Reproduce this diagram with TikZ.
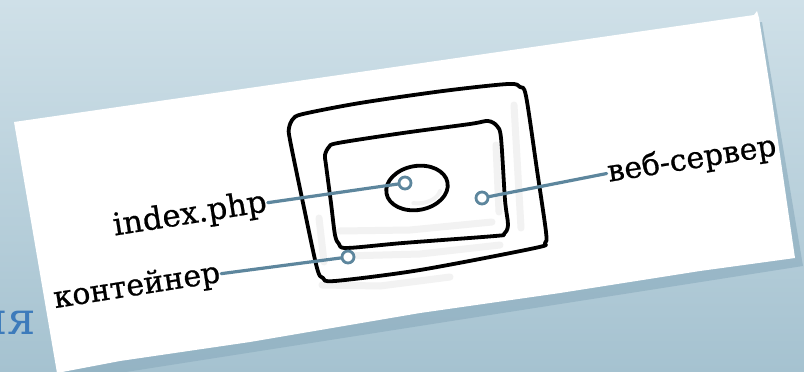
\documentclass[tikz,border=0pt]{standalone}
\usepackage{fontspec}
\setmainfont{DejaVu Serif}
\newfontfamily\tagfont{DejaVu Serif}[FakeBold=0.7]
\usepackage{xcolor}
\usepackage{tikz}
\usetikzlibrary{calc, positioning}
\definecolor{bgtop}{HTML}{CFE0E8}
\definecolor{bgbottom}{HTML}{A5C2D0}
\definecolor{papershadow}{HTML}{8AABBD}
\definecolor{leaderblue}{HTML}{5D869D}
\definecolor{titleblue}{HTML}{3D7BBB}

\begin{document}
\begin{tikzpicture}[
        x = 1pt, y = -1pt,
        caption/.style = {font=\tagfont\fontsize{30}{30}\selectfont, rotate=9, inner sep=1pt},
        knob/.style = {circle, draw=leaderblue, fill=white, line width=2.8pt, minimum size=12pt, inner sep=0pt},
        leader/.style = {draw=leaderblue, line width=3.2pt, line cap=round},
        sketch/.style = {draw=black, line width=3.8pt, line join=round},
        soft/.style = {draw=black!7, line width=7pt, line cap=round, opacity=0.7}
    ]

        \clip (0,0) rectangle (804,372);
        \shade [top color=bgtop, bottom color=bgbottom] (0,0) rectangle (804,372);
        \node (tail) [anchor=base east, text=titleblue, font=\fontsize{45}{45}\selectfont] at (39,334) {ия};

        \fill [papershadow, opacity=0.6] (20,130) -- (762,22) -- (803,266) -- (62,382) -- cycle;
        \fill [white] (14,122) -- (754,15) -- (757,11) -- (759,18) -- (772,100) -- (795,258)
            -- (700,271) -- (560,293) -- (420,313) -- (250,342) -- (120,361) -- (57,373) -- cycle;

        \draw [soft] (340,231) -- (410,230) -- (492,222);
        \draw [soft] (496,145) -- (499,212);
        \draw [soft] (514,105) -- (521,228);
        \draw [soft] (345,256) -- (420,254) -- (500,245);
        \draw [soft] (319,218) -- (324,262);
        \draw [soft] (322,285) -- (380,286) -- (450,277);
        \draw [soft, line width=4pt] ($(417,188)+(23,3)$) arc [start angle=10, end angle=100, x radius=23, y radius=15];

        \draw [sketch] plot [smooth cycle, tension=0.5] coordinates {
            (289,128) (293,119) (303,114) (360,103) (443,91) (508,84) (520,87) (526,96)
            (537,170) (546,232) (545,243) (535,248) (420,270) (335,281) (323,278) (317,268)
            (303,203) (290,140)};
        \draw [sketch] plot [smooth cycle, tension=0.5] coordinates {
            (325,155) (329,147) (338,143) (403,133) (470,124) (488,121) (497,126) (501,138)
            (505,200) (508,225) (504,234) (495,236) (403,243) (347,248) (339,244) (335,235)
            (331,203) (326,165)};
        \draw [sketch] (417,188) ellipse [x radius=31, y radius=22, rotate=10];

        \node (idx) [caption, font=\tagfont\fontsize{31}{31}\selectfont] at (190,215) {index.php};
        \node (cont) [caption] at (137,287) {контейнер};
        \node (web) [caption] at (692,160) {веб-сервер};

        \node (kidx) [knob] at (405,183) {};
        \node (kcont) [knob] at (348,257) {};
        \node (kweb) [knob] at (482,198) {};

        \draw [leader] (idx.east) -- (kidx);
        \draw [leader] (cont.east) -- (kcont);
        \draw [leader] (web.west) -- (kweb);

    \end{tikzpicture}
\end{document}
